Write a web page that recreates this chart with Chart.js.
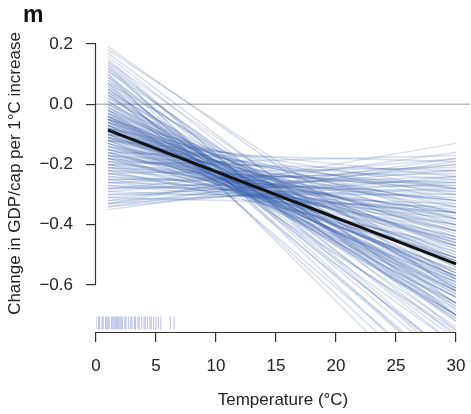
<!DOCTYPE html>
<html><head><meta charset="utf-8">
<script src="https://cdn.jsdelivr.net/npm/chart.js@4"></script>
<style>html,body{margin:0;padding:0;background:#fff;} canvas{display:block;}</style>
</head><body>
<canvas id="c" width="471" height="414"></canvas>
<script>
// Temperatures at which each bootstrap line is evaluated (start, end)
const lineTemps = [1, 30];
// Bootstrap replicate values at T = 1 °C
const startVals = [0.19,0.17,0.15,0.13,0.12,0.11,0.10,0.09,0.08,0.07,0.06,0.05,0.05,0.04,0.03,0.03,0.02,0.01,0.01,0.00,
  0.00,-0.01,-0.01,-0.02,-0.02,-0.03,-0.03,-0.04,-0.04,-0.04,-0.05,-0.05,-0.05,-0.06,-0.06,-0.06,-0.07,-0.07,-0.07,-0.08,
  -0.08,-0.08,-0.08,-0.09,-0.09,-0.09,-0.09,-0.10,-0.10,-0.10,-0.11,-0.11,-0.11,-0.12,-0.12,-0.12,-0.13,-0.13,-0.14,-0.14,
  -0.15,-0.15,-0.16,-0.16,-0.17,-0.17,-0.18,-0.19,-0.20,-0.21,-0.22,-0.23,-0.24,-0.25,-0.26,-0.27,-0.28,-0.29,-0.30,-0.31,
  -0.32,-0.33,-0.34,-0.22,-0.25,-0.28,-0.33,-0.18,0.14,0.18,-0.12,-0.08,-0.16,-0.05,-0.20,-0.10,0.10,0.07,0.13,0.04,
  0.16,0.14,0.12,0.11,0.09,0.08,0.07,0.06,0.05,0.04,0.03,0.02,0.01,0.00,-0.01,-0.02,-0.02,-0.03,-0.03,-0.04,
  -0.04,-0.05,-0.05,-0.06,-0.06,-0.07,-0.07,-0.08,-0.08,-0.09,-0.09,-0.10,-0.10,-0.11,-0.11,-0.12,-0.12,-0.13,-0.13,-0.14,
  -0.14,-0.15,-0.15,-0.16,-0.17,-0.17,-0.18,-0.18,-0.19,-0.19,-0.20,-0.20,-0.21,-0.21,-0.22,-0.23,-0.23,-0.24,-0.25,-0.26,
  -0.26,-0.27,-0.28,-0.29,-0.30,-0.31,-0.32,-0.33,-0.34,-0.35];
// Bootstrap replicate values at T = 30 °C
const endVals = [-0.62,-0.70,-0.87,-0.77,-0.92,-0.68,-0.88,-0.70,-0.85,-0.61,-0.90,-0.69,-0.72,-0.61,-0.71,-0.67,-0.60,-0.70,-0.63,-0.71,
  -0.54,-0.64,-0.58,-0.67,-0.50,-0.70,-0.59,-0.62,-0.52,-0.63,-0.57,-0.51,-0.62,-0.54,-0.64,-0.47,-0.57,-0.51,-0.61,-0.43,
  -0.64,-0.53,-0.57,-0.46,-0.57,-0.53,-0.47,-0.56,-0.49,-0.59,-0.41,-0.52,-0.46,-0.55,-0.38,-0.59,-0.47,-0.51,-0.40,-0.51,
  -0.45,-0.39,-0.49,-0.42,-0.51,-0.34,-0.44,-0.36,-0.45,-0.27,-0.47,-0.35,-0.37,-0.26,-0.36,-0.31,-0.24,-0.33,-0.25,-0.34,
  -0.16,-0.26,-0.18,-0.32,-0.23,-0.18,-0.13,-0.32,-0.66,-0.58,-0.24,-0.32,-0.19,-0.38,-0.17,-0.28,-1.05,-1.00,-0.98,-0.95,
  -0.75,-0.85,-0.72,-0.80,-0.92,-0.66,-0.78,-0.70,-0.84,-0.74,-0.80,-0.66,-0.76,-0.62,-0.70,-0.56,-0.75,-0.64,-0.48,-0.68,
  -0.56,-0.44,-0.66,-0.58,-0.40,-0.66,-0.45,-0.60,-0.36,-0.62,-0.42,-0.52,-0.34,-0.58,-0.36,-0.50,-0.30,-0.55,-0.42,-0.46,
  -0.33,-0.52,-0.28,-0.44,-0.38,-0.25,-0.48,-0.29,-0.40,-0.22,-0.36,-0.28,-0.42,-0.32,-0.26,-0.40,-0.21,-0.30,-0.38,-0.22,
  -0.29,-0.36,-0.27,-0.20,-0.30,-0.22,-0.28,-0.20,-0.24,-0.19];
// Central estimate at T = 1 and T = 30
const meanVals = [-0.086, -0.53];
// Zero reference line
const refY = 0;
// Rug of observed temperatures
const rugTemps = [-0.1,0.0,0.2,0.3,0.5,0.6,0.8,0.9,1.0,1.1,1.3,1.4,1.5,1.6,1.7,1.8,1.9,2.0,2.1,2.2,2.4,2.5,2.7,2.9,3.0,
  3.2,3.3,3.5,3.6,3.8,4.0,4.1,4.3,4.5,4.6,4.8,5.0,5.2,5.4,6.2,6.5];
const rugY = -0.726;
const xTicks = [0,5,10,15,20,25,30];
const yTicks = [0.2,0,-0.2,-0.4,-0.6];
const xLabel = 'Temperature (°C)';
const yLabel = 'Change in GDP/cap per 1°C increase';
const panelLabel = 'm';

const X_MIN = 0, X_MAX = 31.17, Y_MIN = -0.756, Y_MAX = 0.296;
const FONT = '"Liberation Sans", Arial, Helvetica, sans-serif';
const TXT = '#222';
const FS = 17;

const datasets = [];
datasets.push({type:'line', data:[{x:X_MIN,y:refY},{x:X_MAX,y:refY}], borderColor:'#bdbdbd', borderWidth:1.5, pointRadius:0, order:20});
startVals.forEach((s,i)=>{
  datasets.push({type:'line', data:[{x:lineTemps[0],y:s},{x:lineTemps[1],y:endVals[i]}],
    borderColor:'rgba(55,95,170,0.2)', borderWidth:1.5, pointRadius:0, order:10});
});
datasets.push({type:'line', data:lineTemps.map((t,i)=>({x:t,y:meanVals[i]})), borderColor:'#111', borderWidth:3, pointRadius:0, order:0});
datasets.push({type:'scatter', data:rugTemps.map(t=>({x:t,y:rugY})), pointStyle:'line', rotation:90, radius:6.5,
  borderColor:'rgba(100,110,200,0.45)', backgroundColor:'rgba(100,110,200,0.45)', borderWidth:1, order:1});

const fmtY = v => (v === 0 ? '0.0' : (v < 0 ? '\u2212' : '') + Math.abs(v).toFixed(1));
const zeroPad = s => {
  s.paddingLeft = 0; s.paddingRight = 0; s.paddingTop = 0; s.paddingBottom = 0;
};

const spines = {
  id:'spines',
  afterDraw(chart){
    const {ctx, scales:{x,y}} = chart;
    ctx.save();
    ctx.strokeStyle = '#333';
    ctx.lineWidth = 1.2;
    const xl = Math.round(x.left) - 0.5;
    ctx.beginPath();
    ctx.moveTo(xl, y.getPixelForValue(yTicks[0]));
    ctx.lineTo(xl, y.getPixelForValue(yTicks[yTicks.length-1]));
    ctx.stroke();
    const yb = Math.round(y.bottom) + 0.5;
    ctx.beginPath();
    ctx.moveTo(x.getPixelForValue(xTicks[0]), yb);
    ctx.lineTo(x.getPixelForValue(xTicks[xTicks.length-1]), yb);
    ctx.stroke();
    ctx.fillStyle = '#111';
    ctx.font = 'bold 23px ' + FONT;
    ctx.textBaseline = 'alphabetic';
    ctx.fillText(panelLabel, 23, 22);
    ctx.restore();
  }
};

new Chart(document.getElementById('c'), {
  data:{datasets},
  options:{
    responsive:false, animation:false, devicePixelRatio:1,
    layout:{autoPadding:false, padding:{top:15, right:1, left:0, bottom:0}},
    plugins:{legend:{display:false}, tooltip:{enabled:false}},
    scales:{
      x:{type:'linear', min:X_MIN, max:X_MAX,
        afterBuildTicks:s=>{s.ticks = xTicks.map(v=>({value:v}));},
        afterFit:s=>{s.height = 82; zeroPad(s);},
        ticks:{autoSkip:false, maxRotation:0, font:{family:FONT, size:FS}, color:TXT, padding:14, callback:v=>String(v)},
        grid:{display:true, drawOnChartArea:false, drawTicks:true, tickLength:10, tickColor:'#333', lineWidth:1.2},
        border:{display:false},
        title:{display:true, text:xLabel, font:{family:FONT, size:FS}, color:TXT, padding:{top:4, bottom:3}}
      },
      y:{type:'linear', min:Y_MIN, max:Y_MAX,
        afterBuildTicks:s=>{s.ticks = yTicks.map(v=>({value:v}));},
        afterFit:s=>{s.width = 96; zeroPad(s);},
        ticks:{autoSkip:false, font:{family:FONT, size:FS}, color:TXT, padding:13, callback:fmtY},
        grid:{display:true, drawOnChartArea:false, drawTicks:true, tickLength:10, tickColor:'#333', lineWidth:1.2},
        border:{display:false},
        title:{display:true, text:yLabel, font:{family:FONT, size:FS}, color:TXT, padding:{top:5, bottom:0}}
      }
    }
  },
  plugins:[spines]
});
</script>
</body></html>
